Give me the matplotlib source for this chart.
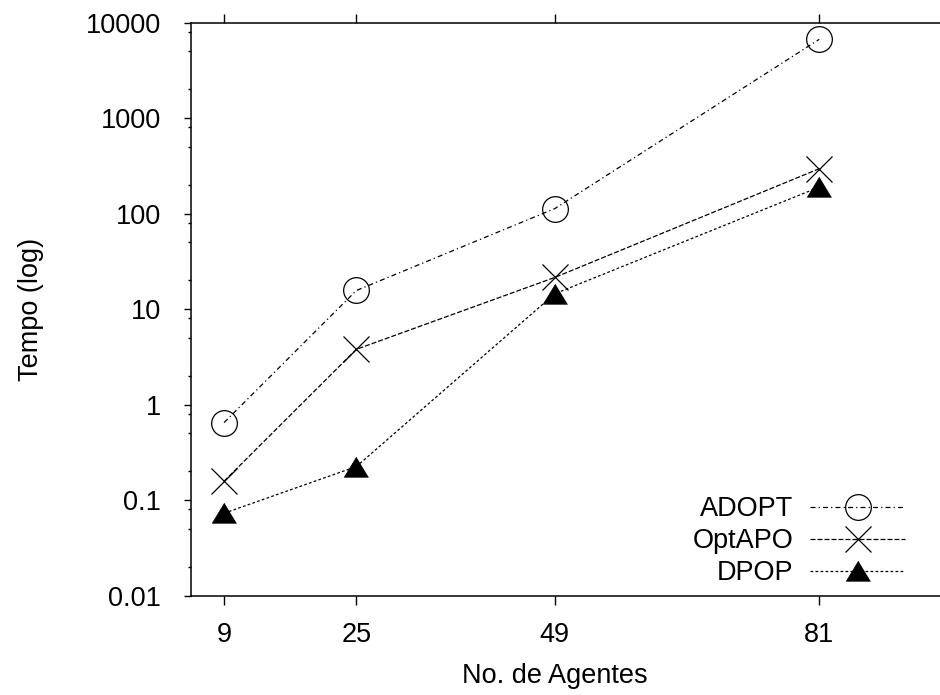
import matplotlib
matplotlib.use('Agg')
import matplotlib.pyplot as plt
from matplotlib.ticker import LogLocator, FixedLocator, FuncFormatter, NullFormatter

plt.rcParams['font.family'] = ['Liberation Sans', 'DejaVu Sans']

agentes = [9, 25, 49, 81]
adopt = [0.65, 15.7, 113, 6700]
optapo = [0.158, 3.8, 21.5, 296]
dpop = [0.073, 0.225, 14.5, 190]

fs = 19.5

fig = plt.figure(figsize=(9.4, 6.95), dpi=100)
# axes extends past the right edge of the picture (no right border visible)
ax = fig.add_axes([191 / 940, 1 - 595.7 / 695, 789.5 / 940, (595.7 - 22.7) / 695])

tri = [(0, 0.85), (-1, -0.8), (1, -0.8)]

ax.plot(agentes, adopt, color='black', lw=0.9, linestyle=(0, (4, 2.5, 1, 2.5)),
        marker='o', ms=18.5, mfc='none', mec='black', mew=0.9, label='ADOPT')
ax.plot(agentes, optapo, color='black', lw=0.9, linestyle=(0, (4, 1.6)),
        marker='x', ms=18.5, mec='black', mew=0.9, label='OptAPO')
ax.plot(agentes, dpop, color='black', lw=0.9, linestyle=(0, (2.2, 1.8)),
        marker=tri, ms=17.5, mfc='black', mec='black', mew=0.5, label='DPOP')

ax.set_yscale('log')
ax.set_ylim(0.01, 10000)
ax.set_xlim(5, 100.5)

ax.xaxis.set_major_locator(FixedLocator(agentes))
ax.yaxis.set_major_locator(LogLocator(base=10, numticks=10))
ax.yaxis.set_minor_locator(LogLocator(base=10, subs=(0.2, 0.5, 0.8), numticks=20))
ax.yaxis.set_major_formatter(FuncFormatter(lambda v, p: '%g' % v))
ax.yaxis.set_minor_formatter(NullFormatter())

ax.spines['right'].set_visible(False)
for s in ['left', 'top', 'bottom']:
    ax.spines[s].set_linewidth(1.1)

ax.tick_params(axis='x', which='major', direction='out', top=True, bottom=True,
               length=6.2, width=1.0, labelsize=fs, pad=13)
ax.tick_params(axis='y', which='major', direction='out', left=True, right=False,
               length=5.2, width=1.0, labelsize=fs, pad=16.3)
ax.tick_params(axis='y', which='minor', direction='out', left=True, right=False,
               length=2.4, width=1.0)

ax.set_xlabel('No. de Agentes', fontsize=fs)
ax.set_ylabel('Tempo (log)', fontsize=fs)
ax.xaxis.set_label_coords((555 - 191) / 789.5, (595.7 - 663) / 573)
ax.yaxis.set_label_coords((44 - 191) / 789.5, 0.5)

ax.legend(loc='lower right', bbox_to_anchor=(905 / 940, 1 - 586 / 695),
          bbox_transform=fig.transFigure, frameon=False, fontsize=fs,
          markerfirst=False, numpoints=1, handlelength=3.5, handletextpad=0.63,
          labelspacing=0.22, borderpad=0, borderaxespad=0)

plt.savefig('out.png', dpi=100)
